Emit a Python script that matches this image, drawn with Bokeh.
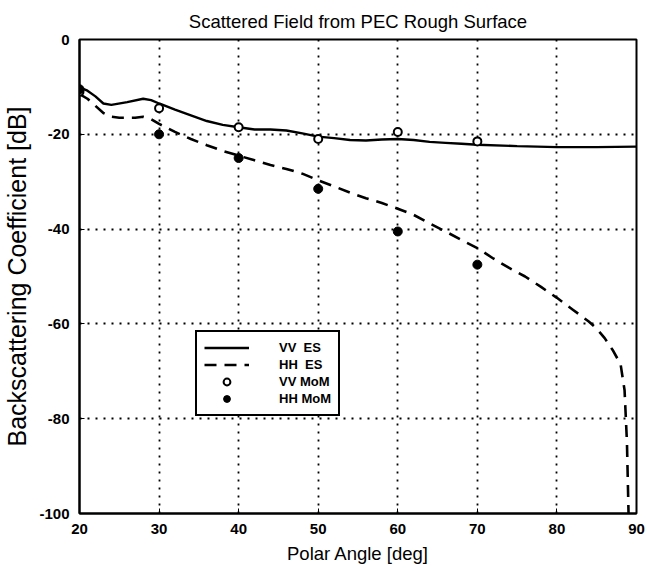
from bokeh.plotting import figure
from bokeh.models import FixedTicker, Range1d, Legend, LegendItem
from bokeh.embed import file_html
from bokeh.resources import INLINE

# ---- data ----
vv_es_x = [20, 21, 22, 23, 24, 26, 28, 29, 30, 32, 34, 36, 38, 40, 42, 44, 46, 48, 50,
           52, 54, 56, 58, 60, 62, 64, 66, 68, 70, 75, 80, 85, 90]
vv_es_y = [-10.1, -10.8, -12.0, -13.5, -13.8, -13.2, -12.5, -12.8, -13.5, -14.8, -16.0,
           -17.2, -18.0, -18.5, -19.0, -19.0, -19.2, -19.8, -20.5, -20.8, -21.2, -21.3,
           -21.1, -21.0, -21.2, -21.6, -21.8, -22.0, -22.2, -22.5, -22.7, -22.7, -22.6]

hh_es_x = [20, 21, 22, 23, 24, 25, 26, 27, 28, 29, 30, 32, 34, 36, 38, 40, 42, 44, 46, 48,
           50, 52, 54, 56, 58, 60, 62, 64, 66, 68, 70, 72, 74, 76, 78, 80, 82, 84, 85, 86,
           87, 88, 88.5, 88.8, 89]
hh_es_y = [-11.5, -12.5, -14.0, -15.5, -16.3, -16.5, -16.5, -16.5, -16.3, -16.8, -17.8,
           -19.5, -21.0, -22.3, -23.5, -24.5, -25.5, -26.5, -27.3, -28.3, -29.7, -31.0,
           -32.3, -33.5, -34.5, -35.7, -37.0, -38.8, -40.5, -42.3, -44.0, -46.2, -48.2,
           -50.0, -52.2, -54.5, -57.0, -59.5, -61.0, -63.0, -65.5, -68.5, -74.0, -85.0, -100.0]

mom_x = [20, 30, 40, 50, 60, 70]
vv_mom_y = [-11.0, -14.5, -18.5, -21.0, -19.5, -21.5]
hh_mom_y = [-10.5, -20.0, -25.0, -31.5, -40.5, -47.5]

x_ticks = [20, 30, 40, 50, 60, 70, 80, 90]
y_ticks = [0, -20, -40, -60, -80, -100]

FONT = "Liberation Sans"

p = figure(width=647, height=571, output_backend="svg", toolbar_location=None,
           x_range=Range1d(20, 90), y_range=Range1d(-100, 0),
           title="Scattered Field from PEC Rough Surface")
p.min_border_left = 79
p.min_border_right = 11
p.min_border_top = 39
p.min_border_bottom = 58
p.background_fill_color = "white"
p.border_fill_color = "white"
p.outline_line_color = "black"
p.outline_line_width = 2

p.title.align = "center"
p.title.text_font = FONT
p.title.text_font_size = "18.5px"
p.title.text_font_style = "normal"
p.title.text_color = "black"
p.title.standoff = 15

for ax in (p.xaxis[0], p.yaxis[0]):
    ax.major_label_text_font = FONT
    ax.major_label_text_font_size = "15px"
    ax.major_label_text_font_style = "bold"
    ax.major_label_text_color = "black"
    ax.axis_label_text_font = FONT
    ax.axis_label_text_font_style = "normal"
    ax.axis_label_text_color = "black"
    ax.major_tick_in = 5
    ax.major_tick_out = 0
    ax.minor_tick_in = 0
    ax.minor_tick_out = 0
    ax.axis_line_color = "black"
    ax.axis_line_width = 2
    ax.major_tick_line_color = "black"

p.xaxis[0].ticker = FixedTicker(ticks=x_ticks)
p.yaxis[0].ticker = FixedTicker(ticks=y_ticks)
p.xaxis[0].major_label_overrides = {t: str(t) for t in x_ticks}
p.yaxis[0].major_label_overrides = {t: str(t) for t in y_ticks}
p.xaxis[0].axis_label = "Polar Angle [deg]"
p.yaxis[0].axis_label = "Backscattering Coefficient [dB]"
p.xaxis[0].axis_label_text_font_size = "18.5px"
p.yaxis[0].axis_label_text_font_size = "25px"
p.xaxis[0].major_label_standoff = 10
p.yaxis[0].major_label_standoff = 10
p.xaxis[0].axis_label_standoff = 6
p.yaxis[0].axis_label_standoff = 5

p.xgrid.ticker = FixedTicker(ticks=x_ticks)
p.ygrid.ticker = FixedTicker(ticks=y_ticks)
for g in (p.xgrid[0], p.ygrid[0]):
    g.grid_line_color = "black"
    g.grid_line_dash = "2 6"
    g.grid_line_width = 1.8
    g.grid_line_alpha = 1.0

r_vv = p.line(vv_es_x, vv_es_y, line_color="black", line_width=2.4)
r_hh = p.line(hh_es_x, hh_es_y, line_color="black", line_width=2.6, line_dash="12 8")
r_vvm = p.scatter(mom_x, vv_mom_y, marker="circle", size=8, fill_color="white",
                  line_color="black", line_width=2)
r_hhm = p.scatter(mom_x, hh_mom_y, marker="circle", size=9, fill_color="black",
                  line_color="black")

legend = Legend(items=[LegendItem(label="VV  ES", renderers=[r_vv]),
                       LegendItem(label="HH  ES", renderers=[r_hh]),
                       LegendItem(label="VV MoM", renderers=[r_vvm]),
                       LegendItem(label="HH MoM", renderers=[r_hhm])],
                location=(116, 97))
legend.label_text_font = FONT
legend.label_text_font_size = "13px"
legend.label_text_font_style = "bold"
legend.label_text_color = "black"
legend.border_line_color = "black"
legend.border_line_width = 2
legend.border_line_alpha = 1.0
legend.background_fill_color = "white"
legend.background_fill_alpha = 1.0
legend.glyph_width = 45
legend.glyph_height = 17
legend.label_height = 17
legend.label_standoff = 30
legend.spacing = 0
legend.padding = 7
legend.margin = 0
p.add_layout(legend, "center")

open("out.html", "w").write(file_html(p, INLINE))
